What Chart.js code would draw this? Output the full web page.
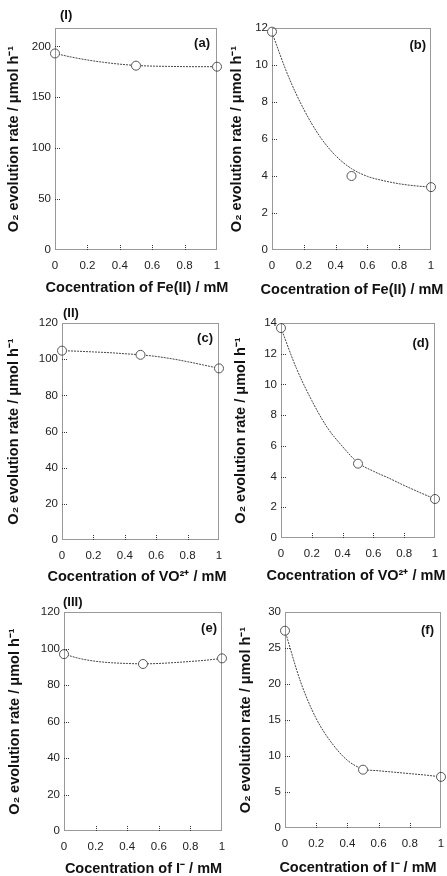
<!DOCTYPE html>
<html><head><meta charset="utf-8">
<script src="https://cdn.jsdelivr.net/npm/chart.js@4"></script>
<style>
html,body{margin:0;padding:0;background:#fff}
body{width:447px;height:876px;overflow:hidden;position:relative}
canvas{position:absolute}
</style></head><body>
<canvas id="ca"></canvas><canvas id="cc"></canvas><canvas id="ce"></canvas>
<canvas id="cb"></canvas><canvas id="cd"></canvas><canvas id="cf"></canvas>
<script>
// ---- data ----
const concPts = [0, 0.5, 1];
const ratesA = [193, 181, 180];
const ratesB = [11.8, 4.0, 3.4];
const ratesC = [104.7, 102.4, 94.9];
const ratesD = [13.67, 4.84, 2.54];
const ratesE = [96.9, 91.5, 94.6];
const ratesF = [27.4, 8.1, 7.1];
// fitted curves as drawn in the picture
const fitConc = [0, 0.1, 0.2, 0.3, 0.4, 0.5, 0.6, 0.7, 0.8, 0.9, 1];
const fitA = [193, 189.5, 186.6, 184.3, 182.5, 181.2, 180.6, 180.3, 180.1, 180, 180];
const fitB = [11.75, 9.45, 7.6, 6.15, 5.1, 4.4, 3.98, 3.75, 3.58, 3.47, 3.4];
const fitC = [104.7, 104.4, 104.0, 103.6, 103.0, 102.4, 101.5, 100.2, 98.6, 96.8, 94.9];
const fitD = [13.67, 11.05, 8.95, 7.2, 5.95, 4.9, 4.35, 3.9, 3.42, 2.97, 2.54];
const fitE = [96.9, 94.5, 93.0, 92.2, 91.8, 91.6, 91.8, 92.3, 92.9, 93.6, 94.6];
const fitF = [27.4, 20.3, 15.2, 11.8, 9.4, 8.2, 7.95, 7.75, 7.55, 7.35, 7.1];
const xTickStep = 0.2;
const yTitle = 'O\u2082 evolution rate / \u03bcmol h\u207b\u00b9';
const xTitles = ['Cocentration of Fe(II) / mM', 'Cocentration of VO\u00b2\u207a / mM', 'Cocentration of I\u207b / mM'];
const panelTags = ['(a)', '(b)', '(c)', '(d)', '(e)', '(f)'];
const romanTags = ['(I)', '(II)', '(III)'];

const FONT = '"Liberation Sans", Arial, Helvetica, sans-serif';
const TITLE_FONT = 'bold 14.5px ' + FONT;

const panels = [
  {id:'ca', L:0,   T:0,   W:240, H:298, fl:55,  fr:217, ft:28,  fb:250, ymax:218, step:50, pts:ratesA, fit:fitA, xt:xTitles[0], xtc:137, xty:288, tag:panelTags[0], tdx:7, tdy:15, roman:romanTags[0], rdx:5, rdy:-13, tpad:5},
  {id:'cb', L:224, T:0,   W:223, H:300, fl:272, fr:431, ft:28,  fb:250, ymax:12,  step:2,  pts:ratesB, fit:fitB, xt:xTitles[0], xtc:352, xty:290, tag:panelTags[1], tdx:5, tdy:17, tpad:4},
  {id:'cc', L:0,   T:290, W:240, H:296, fl:62,  fr:219, ft:323, fb:540, ymax:120, step:20, pts:ratesC, fit:fitC, xt:xTitles[1], xtc:137, xty:576.5, tag:panelTags[2], tdx:6, tdy:15, roman:romanTags[1], rdx:1, rdy:-10, tpad:5},
  {id:'cd', L:224, T:290, W:223, H:296, fl:281, fr:435, ft:323, fb:538, ymax:14,  step:2,  pts:ratesD, fit:fitD, xt:xTitles[1], xtc:356, xty:575.5, tag:panelTags[3], tdx:6, tdy:20, tpad:8},
  {id:'ce', L:0,   T:580, W:240, H:296, fl:64,  fr:222, ft:612, fb:831, ymax:120, step:20, pts:ratesE, fit:fitE, xt:xTitles[2], xtc:143.5, xty:869, tag:panelTags[4], tdx:5, tdy:16, roman:romanTags[2], rdx:-1, rdy:-10, tpad:6},
  {id:'cf', L:224, T:580, W:223, H:296, fl:285, fr:441, ft:612, fb:828, ymax:30,  step:5,  pts:ratesF, fit:fitF, xt:xTitles[2], xtc:358, xty:868, tag:panelTags[5], tdx:7, tdy:18, tpad:13}
];

const deco = {
  id: 'deco',
  afterDatasetsDraw(chart, args, o) {
    const ctx = chart.ctx, a = chart.chartArea, xs = chart.scales.x, ys = chart.scales.y;
    ctx.save();
    ctx.strokeStyle = '#333';
    ctx.lineWidth = 1;
    ctx.setLineDash([1, 1]);
    ctx.strokeRect(Math.round(a.left) + 0.5, Math.round(a.top) + 0.5, Math.round(a.right - a.left) - 1, Math.round(a.bottom - a.top) - 1);
    ctx.beginPath();
    ys.ticks.forEach(t => {
      if (t.value <= ys.min || t.value >= ys.max) return;
      const y = Math.round(ys.getPixelForValue(t.value)) + 0.5;
      ctx.moveTo(a.left, y); ctx.lineTo(a.left + 6, y);
    });
    xs.ticks.forEach(t => {
      if (t.value <= xs.min + 1e-9 || t.value >= xs.max - 1e-9) return;
      const x = Math.round(xs.getPixelForValue(t.value)) + 0.5;
      ctx.moveTo(x, a.bottom); ctx.lineTo(x, a.bottom - 5);
    });
    ctx.stroke();
    ctx.setLineDash([]);
    ctx.fillStyle = '#111';
    ctx.font = 'bold 13px ' + FONT;
    ctx.textAlign = 'right'; ctx.textBaseline = 'middle';
    ctx.fillText(o.tag, a.right - o.tdx, a.top + o.tdy);
    if (o.roman) {
      ctx.textAlign = 'left';
      ctx.fillText(o.roman, a.left + o.rdx, a.top + o.rdy);
    }
    // x-axis title (drawn here so it is not squeezed to the plot width)
    ctx.font = TITLE_FONT;
    ctx.textAlign = 'center';
    ctx.fillText(o.xt, o.xtc - o.L, o.xty - o.T);
    ctx.restore();
  }
};

panels.forEach(p => {
  const cv = document.getElementById(p.id);
  cv.width = p.W; cv.height = p.H;
  cv.style.left = p.L + 'px'; cv.style.top = p.T + 'px';
  const yw = p.fl - p.L, xh = p.T + p.H - p.fb;
  new Chart(cv, {
    type: 'line',
    data: {
      datasets: [
        { data: concPts.map((c, i) => ({x: c, y: p.pts[i]})), showLine: false, clip: false,
          pointRadius: 4.5, pointBackgroundColor: '#fff', pointBorderColor: '#555', pointBorderWidth: 1 },
        { data: fitConc.map((c, i) => ({x: c, y: p.fit[i]})), pointRadius: 0, clip: false,
          borderColor: '#444', borderWidth: 1, borderDash: [2, 1], cubicInterpolationMode: 'monotone' }
      ]
    },
    options: {
      responsive: false, animation: false, devicePixelRatio: 1,
      layout: { padding: { left: 0, right: p.L + p.W - p.fr, top: p.ft - p.T, bottom: 0 } },
      plugins: { legend: {display: false}, tooltip: {enabled: false}, deco: p },
      scales: {
        x: {
          type: 'linear', min: 0, max: 1,
          grid: { display: true, drawOnChartArea: false, drawTicks: true, tickLength: 9, color: 'rgba(0,0,0,0)' },
          border: { display: false },
          ticks: { stepSize: xTickStep, padding: 0, color: '#222', font: {family: FONT, size: 11.5},
                   includeBounds: false, maxRotation: 0, autoSkip: false,
                   callback: v => String(Math.round(v * 10) / 10) },
          title: { display: false },
          afterFit: s => { s.height = xh; }
        },
        y: {
          type: 'linear', min: 0, max: p.ymax,
          grid: { display: false, drawTicks: false },
          border: { display: false },
          ticks: { stepSize: p.step, padding: 4, color: '#222', font: {family: FONT, size: 11.5}, includeBounds: false },
          title: { display: true, text: yTitle, color: '#111', font: {family: FONT, size: 14.5, weight: 'bold'}, padding: {top: p.tpad, bottom: 0} },
          afterFit: s => { s.width = yw; }
        }
      }
    },
    plugins: [deco]
  });
});
</script>
</body></html>
